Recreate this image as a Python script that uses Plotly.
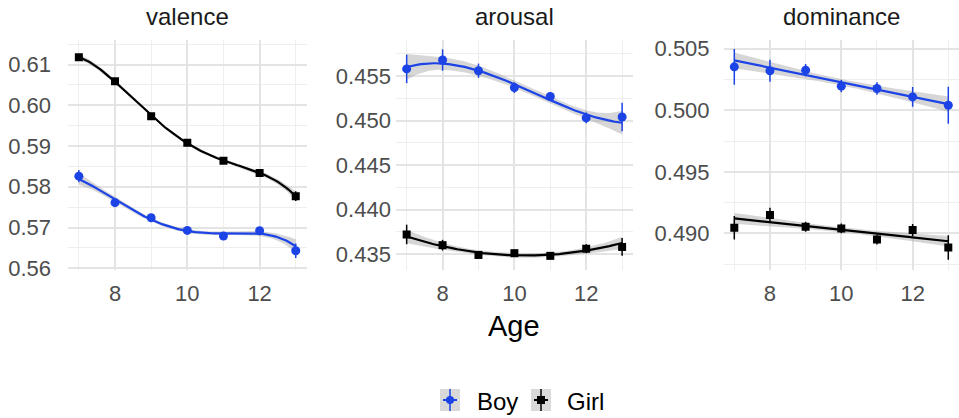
import numpy as np
import plotly.graph_objects as go

# ---------------- data ----------------
AGES = [7, 8, 9, 10, 11, 12, 13]
FACETS = ["valence", "arousal", "dominance"]
GROUPS = ["Boy", "Girl"]

VALENCE_BOY = [0.5826, 0.5761, 0.5724, 0.5693, 0.5679, 0.5692, 0.5643]
VALENCE_BOY_SE = [0.0015, 0.0008, 0.0006, 0.0006, 0.0006, 0.0007, 0.0018]
VALENCE_GIRL = [0.6118, 0.6059, 0.5973, 0.5908, 0.5864, 0.5834, 0.5777]
VALENCE_GIRL_SE = [0.0008, 0.0006, 0.0005, 0.0005, 0.0005, 0.0006, 0.0012]

AROUSAL_BOY = [0.4558, 0.4568, 0.4556, 0.4537, 0.4527, 0.4503, 0.4504]
AROUSAL_BOY_SE = [0.0016, 0.0012, 0.0008, 0.0006, 0.0005, 0.0006, 0.0016]
AROUSAL_GIRL = [0.4372, 0.4360, 0.4349, 0.4351, 0.4348, 0.4356, 0.4358]
AROUSAL_GIRL_SE = [0.0011, 0.0006, 0.0004, 0.0004, 0.0004, 0.0005, 0.0010]

DOMINANCE_BOY = [0.50353, 0.50321, 0.50326, 0.50196, 0.50177, 0.50109, 0.50041]
DOMINANCE_BOY_SE = [0.00145, 0.0009, 0.0005, 0.0005, 0.0005, 0.0008, 0.0015]
DOMINANCE_GIRL = [0.49046, 0.49149, 0.49054, 0.49041, 0.48951, 0.49027, 0.48886]
DOMINANCE_GIRL_SE = [0.00095, 0.0006, 0.0004, 0.0004, 0.0004, 0.0005, 0.0010]

X_TICKS = [8, 10, 12]
VALENCE_TICKS = [0.56, 0.57, 0.58, 0.59, 0.60, 0.61]
AROUSAL_TICKS = [0.435, 0.440, 0.445, 0.450, 0.455]
DOMINANCE_TICKS = [0.490, 0.495, 0.500, 0.505]

DATA = {
    "valence": {"Boy": (VALENCE_BOY, VALENCE_BOY_SE), "Girl": (VALENCE_GIRL, VALENCE_GIRL_SE)},
    "arousal": {"Boy": (AROUSAL_BOY, AROUSAL_BOY_SE), "Girl": (AROUSAL_GIRL, AROUSAL_GIRL_SE)},
    "dominance": {"Boy": (DOMINANCE_BOY, DOMINANCE_BOY_SE), "Girl": (DOMINANCE_GIRL, DOMINANCE_GIRL_SE)},
}
TICKS = {"valence": (VALENCE_TICKS, 2), "arousal": (AROUSAL_TICKS, 3), "dominance": (DOMINANCE_TICKS, 3)}
# smoother flexibility per facet and group (weighted polynomial degree)
SMOOTH_DEGREE = {"valence": {"Boy": 4, "Girl": 4},
                 "arousal": {"Boy": 3, "Girl": 2},
                 "dominance": {"Boy": 1, "Girl": 1}}
BAND_Z = 1.0

# ---------------- styling ----------------
COLORS = {"Boy": "#1c43e6", "Girl": "#000000"}
SYMBOLS = {"Boy": "circle", "Girl": "square"}
MSIZE = {"Boy": 9, "Girl": 8}
RIBBON = "rgba(153,153,153,0.4)"
FONT = "Liberation Sans, Arial, Helvetica, sans-serif"

W, H = 959, 418
ML, MR, MT, MB = 68, 0, 40, 148
PW, PH = W - ML - MR, H - MT - MB
X_DOMAINS = [[0.0, 0.2678], [0.368, 0.634], [0.7358, 1.0]]
Y_RANGES = {"valence": [0.55958, 0.61601], "arousal": [0.43321, 0.45905], "dominance": [0.48703, 0.50571]}
Y_STANDOFF = {"valence": 16, "arousal": 4, "dominance": 13}


def smooth(x, y, se, degree, n=120):
    x = np.asarray(x, float)
    y = np.asarray(y, float)
    w = 1.0 / np.asarray(se, float) ** 2
    t = (x - 10.0) / 3.0
    X = np.vander(t, degree + 1, increasing=True)
    XtW = X.T * w
    Ainv = np.linalg.inv(XtW @ X)
    beta = Ainv @ (XtW @ y)
    xg = np.linspace(x.min(), x.max(), n)
    G = np.vander((xg - 10.0) / 3.0, degree + 1, increasing=True)
    fit = G @ beta
    s = np.sqrt(np.einsum("ij,jk,ik->i", G, Ainv, G))
    return xg, fit, fit - BAND_Z * s, fit + BAND_Z * s


fig = go.Figure()
for i, facet in enumerate(FACETS, start=1):
    xa = "x" if i == 1 else f"x{i}"
    ya = "y" if i == 1 else f"y{i}"
    fits = {}
    for g in GROUPS:
        vals, ses = DATA[facet][g]
        fits[g] = smooth(AGES, vals, ses, SMOOTH_DEGREE[facet][g])
        xg, fit, lo, hi = fits[g]
        fig.add_trace(go.Scatter(x=xg, y=lo, mode="lines", line=dict(width=0), xaxis=xa, yaxis=ya,
                                 showlegend=False, hoverinfo="skip"))
        fig.add_trace(go.Scatter(x=xg, y=hi, mode="lines", line=dict(width=0), fill="tonexty",
                                 fillcolor=RIBBON, xaxis=xa, yaxis=ya, showlegend=False, hoverinfo="skip"))
    for g in GROUPS:
        vals, ses = DATA[facet][g]
        fig.add_trace(go.Scatter(
            x=AGES, y=vals, mode="markers", xaxis=xa, yaxis=ya, showlegend=False, name=g,
            marker=dict(color=COLORS[g], symbol=SYMBOLS[g], size=MSIZE[g], line=dict(width=0)),
            error_y=dict(type="data", array=ses, visible=True, color=COLORS[g], thickness=1.5, width=0)))
        xg, fit, lo, hi = fits[g]
        fig.add_trace(go.Scatter(x=xg, y=fit, mode="lines", line=dict(color=COLORS[g], width=2.2),
                                 xaxis=xa, yaxis=ya, showlegend=False, hoverinfo="skip"))

layout = dict(
    width=W, height=H, margin=dict(l=ML, r=MR, t=MT, b=MB),
    plot_bgcolor="white", paper_bgcolor="white", showlegend=False,
    font=dict(family=FONT, color="#1a1a1a"),
)
GRID = dict(showgrid=True, gridcolor="#e4e4e4", gridwidth=2, zeroline=False, showline=False, ticks="")
MINOR = dict(showgrid=True, gridcolor="#eeeeee", gridwidth=1.2, ticks="")
for i, facet in enumerate(FACETS, start=1):
    key = "" if i == 1 else str(i)
    tv, dec = TICKS[facet]
    step = tv[1] - tv[0]
    minor_y = [tv[0] - step / 2] + [v + step / 2 for v in tv]
    layout["xaxis" + key] = dict(
        domain=X_DOMAINS[i - 1], range=[6.7, 13.3], anchor="y" + key, tickvals=X_TICKS,
        ticktext=[str(v) for v in X_TICKS], tickfont=dict(size=22, color="#4d4d4d"),
        ticklabelstandoff=8, minor=dict(tickvals=[7, 9, 11, 13], **MINOR), **GRID)
    layout["yaxis" + key] = dict(
        domain=[0, 1], range=Y_RANGES[facet], anchor="x" + key, tickvals=tv,
        ticktext=[f"{v:.{dec}f}" for v in tv], tickfont=dict(size=22, color="#4d4d4d"),
        ticklabelstandoff=Y_STANDOFF[facet], minor=dict(tickvals=minor_y, **MINOR), **GRID)


def px(xp):
    return (xp - ML) / PW


def py(yp):
    return (H - MB - yp) / PH


annotations = []
for i, facet in enumerate(FACETS):
    d = X_DOMAINS[i]
    annotations.append(dict(text=facet, x=(d[0] + d[1]) / 2, y=py(17), xref="paper", yref="paper",
                            showarrow=False, xanchor="center", yanchor="middle",
                            font=dict(size=24, color="#1a1a1a")))
annotations.append(dict(text="Age", x=px(514), y=py(326), xref="paper", yref="paper", showarrow=False,
                        xanchor="center", yanchor="middle", font=dict(size=29, color="#000000")))

# manual legend (keys drawn like ggplot keys)
shapes = []
LEG = [("Boy", 440, 475), ("Girl", 531, 565)]
for g, bx, tx in LEG:
    cy = 400
    shapes.append(dict(type="rect", xref="paper", yref="paper", x0=px(bx), x1=px(bx + 20),
                       y0=py(cy + 11), y1=py(cy - 11), fillcolor="#d9d9d9", line=dict(width=0)))
    shapes.append(dict(type="line", xref="paper", yref="paper", x0=px(bx + 3), x1=px(bx + 17),
                       y0=py(cy), y1=py(cy), line=dict(color=COLORS[g], width=2)))
    shapes.append(dict(type="line", xref="paper", yref="paper", x0=px(bx + 10), x1=px(bx + 10),
                       y0=py(cy + 11), y1=py(cy - 11), line=dict(color=COLORS[g], width=1.5)))
    shapes.append(dict(type="circle" if g == "Boy" else "rect", xref="paper", yref="paper",
                       x0=px(bx + 6), x1=px(bx + 14), y0=py(cy + 4), y1=py(cy - 4),
                       fillcolor=COLORS[g], line=dict(width=0)))
    annotations.append(dict(text=g, x=px(tx), y=py(401), xref="paper", yref="paper", showarrow=False,
                            xanchor="left", yanchor="middle", font=dict(size=24, color="#000000")))

layout["annotations"] = annotations
layout["shapes"] = shapes
fig.update_layout(**layout)
fig.write_html("out.html")
